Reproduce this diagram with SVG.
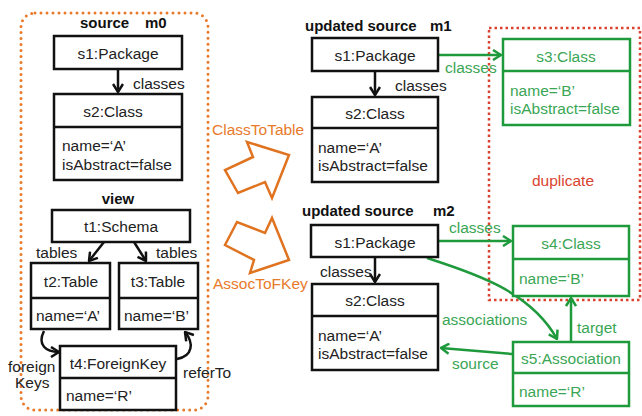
<svg xmlns="http://www.w3.org/2000/svg" width="642" height="416" viewBox="0 0 642 416">
  <style>
    .t { font-family: "Liberation Sans", Arial, sans-serif; font-size: 15.5px; fill: #222; }
    .b { font-weight: bold; font-size: 15px; fill: #111; }
    .mid { text-anchor: middle; }
    .g { fill: #3aa655; }
    .o { fill: #e87a2a; }
    .r { fill: #d9432f; }
    .box { fill: #fff; stroke: #111; stroke-width: 2.5; }
    .gbox { fill: #fff; stroke: #1e9a3c; stroke-width: 2.5; }
    .line { fill: none; stroke: #111; stroke-width: 2.5; }
    .gline { fill: none; stroke: #1e9a3c; stroke-width: 2.5; }
    .fat { fill: #fff; stroke: #e07320; stroke-width: 2.5; stroke-linejoin: miter; }
  </style>
  <defs>
    <marker id="ah" viewBox="0 0 10 12" refX="9" refY="6" markerWidth="10" markerHeight="12" markerUnits="userSpaceOnUse" orient="auto">
      <path d="M1,1 L9,6 L1,11" fill="none" stroke="#111" stroke-width="2.5"/>
    </marker>
    <marker id="gah" viewBox="0 0 10 12" refX="9" refY="6" markerWidth="10" markerHeight="12" markerUnits="userSpaceOnUse" orient="auto">
      <path d="M1,1 L9,6 L1,11" fill="none" stroke="#1e9a3c" stroke-width="2.5"/>
    </marker>
  </defs>

  <!-- frames -->
  <rect x="21" y="13" width="187" height="397" rx="14" fill="none" stroke="#e87a2a" stroke-width="3" stroke-dasharray="0 6" stroke-linecap="round"/>
  <rect x="489" y="28" width="151" height="272" fill="none" stroke="#d9432f" stroke-width="2.5" stroke-dasharray="2.5 3"/>

  <!-- section titles -->
  <text class="t b" x="80" y="28">source</text>
  <text class="t b" x="145" y="28">m0</text>
  <text class="t b mid" x="118" y="204">view</text>
  <text class="t b" x="305" y="31">updated source</text>
  <text class="t b" x="430" y="31">m1</text>
  <text class="t b" x="302" y="216">updated source</text>
  <text class="t b" x="433" y="216">m2</text>
  <text class="t r mid" x="563" y="186">duplicate</text>

  <!-- transformation arrows -->
  <g id="classToTable">
    <polygon class="fat" points="238,193 225,170 253,157 247,142 289,155 272,198 265,182"/>
    <text class="t o" x="212" y="135">ClassToTable</text>
  </g>
  <g id="assocToFKey">
    <polygon class="fat" points="225,245 237,222 265,233 272,218 289,260 250,273 254,260"/>
    <text class="t o" x="213" y="289">AssocToFKey</text>
  </g>

  <!-- connectors -->
  <g id="connectors">
    <line class="line" x1="118" y1="69" x2="118" y2="92" marker-end="url(#ah)"/>
    <text class="t" x="133" y="89">classes</text>
    <path class="line" d="M104,242 L89,261" marker-end="url(#ah)"/>
    <text class="t" x="36" y="258">tables</text>
    <path class="line" d="M134,242 L146,261" marker-end="url(#ah)"/>
    <text class="t" x="156" y="258">tables</text>
    <path class="line" d="M44,331 C37,345 46,352 59,352" marker-end="url(#ah)"/>
    <text class="t" x="8" y="372">foreign</text>
    <text class="t" x="15" y="388">Keys</text>
    <path class="line" d="M177,359 C193,356 194,343 185,332" marker-end="url(#ah)"/>
    <text class="t" x="183" y="378">referTo</text>

    <line class="line" x1="375" y1="71" x2="375" y2="95" marker-end="url(#ah)"/>
    <text class="t" x="395" y="91">classes</text>
    <line class="gline" x1="439" y1="55" x2="501" y2="55" marker-end="url(#gah)"/>
    <text class="t g" x="445" y="73">classes</text>

    <line class="line" x1="375" y1="257" x2="375" y2="282" marker-end="url(#ah)"/>
    <text class="t" x="320" y="277">classes</text>
    <line class="gline" x1="439" y1="241" x2="511" y2="241" marker-end="url(#gah)"/>
    <text class="t g" x="449" y="233">classes</text>
    <path class="gline" d="M427,258 C470,272 530,290 557,339" marker-end="url(#gah)"/>
    <text class="t g" x="442" y="325">associations</text>
    <line class="gline" x1="571" y1="342" x2="571" y2="298" marker-end="url(#gah)"/>
    <text class="t g" x="577" y="333">target</text>
    <line class="gline" x1="512" y1="354" x2="441" y2="348" marker-end="url(#gah)"/>
    <text class="t g" x="452" y="369">source</text>
  </g>

  <!-- source m0 -->
  <g id="m0-s1">
    <rect class="box" x="54" y="36" width="128" height="33"/>
    <text class="t mid" x="118" y="59">s1:Package</text>
  </g>
  <g id="m0-s2">
    <rect class="box" x="54" y="94" width="128" height="86"/>
    <line class="line" x1="54" y1="127" x2="182" y2="127"/>
    <text class="t mid" x="113" y="117">s2:Class</text>
    <text class="t" x="62" y="151">name=‘A’</text>
    <text class="t" x="62" y="170">isAbstract=false</text>
  </g>

  <!-- view -->
  <g id="v-t1">
    <rect class="box" x="52" y="210" width="138" height="32"/>
    <text class="t mid" x="121" y="232">t1:Schema</text>
  </g>
  <g id="v-t2">
    <rect class="box" x="31" y="263" width="79" height="66"/>
    <line class="line" x1="31" y1="298" x2="110" y2="298"/>
    <text class="t mid" x="71" y="287">t2:Table</text>
    <text class="t" x="36" y="321">name=‘A’</text>
  </g>
  <g id="v-t3">
    <rect class="box" x="119" y="263" width="79" height="66"/>
    <line class="line" x1="119" y1="298" x2="198" y2="298"/>
    <text class="t mid" x="158" y="287">t3:Table</text>
    <text class="t" x="124" y="321">name=‘B’</text>
  </g>
  <g id="v-t4">
    <rect class="box" x="60" y="346" width="116" height="64"/>
    <line class="line" x1="60" y1="378" x2="176" y2="378"/>
    <text class="t mid" x="118" y="369">t4:ForeignKey</text>
    <text class="t" x="66" y="401">name=‘R’</text>
  </g>

  <!-- updated source m1 -->
  <g id="m1-s1">
    <rect class="box" x="312" y="38" width="126" height="33"/>
    <text class="t mid" x="375" y="61">s1:Package</text>
  </g>
  <g id="m1-s2">
    <rect class="box" x="312" y="97" width="126" height="85"/>
    <line class="line" x1="312" y1="128" x2="438" y2="128"/>
    <text class="t mid" x="375" y="119">s2:Class</text>
    <text class="t" x="318" y="153">name=‘A’</text>
    <text class="t" x="318" y="171">isAbstract=false</text>
  </g>
  <g id="m1-s3">
    <rect class="gbox" x="503" y="39" width="127" height="86"/>
    <line class="gline" x1="503" y1="71" x2="630" y2="71"/>
    <text class="t g mid" x="566" y="62">s3:Class</text>
    <text class="t g" x="510" y="96">name=‘B’</text>
    <text class="t g" x="510" y="114">isAbstract=false</text>
  </g>

  <!-- updated source m2 -->
  <g id="m2-s1">
    <rect class="box" x="311" y="225" width="127" height="32"/>
    <text class="t mid" x="375" y="248">s1:Package</text>
  </g>
  <g id="m2-s2">
    <rect class="box" x="312" y="284" width="126" height="86"/>
    <line class="line" x1="312" y1="316" x2="438" y2="316"/>
    <text class="t mid" x="375" y="306">s2:Class</text>
    <text class="t" x="318" y="341">name=‘A’</text>
    <text class="t" x="318" y="359">isAbstract=false</text>
  </g>
  <g id="m2-s4">
    <rect class="gbox" x="513" y="226" width="116" height="70"/>
    <line class="gline" x1="513" y1="259" x2="629" y2="259"/>
    <text class="t g mid" x="571" y="249">s4:Class</text>
    <text class="t g" x="519" y="284">name=‘B’</text>
  </g>
  <g id="m2-s5">
    <rect class="gbox" x="513" y="342" width="116" height="64"/>
    <line class="gline" x1="513" y1="373" x2="629" y2="373"/>
    <text class="t g mid" x="571" y="364">s5:Association</text>
    <text class="t g" x="519" y="397">name=‘R’</text>
  </g>
</svg>
